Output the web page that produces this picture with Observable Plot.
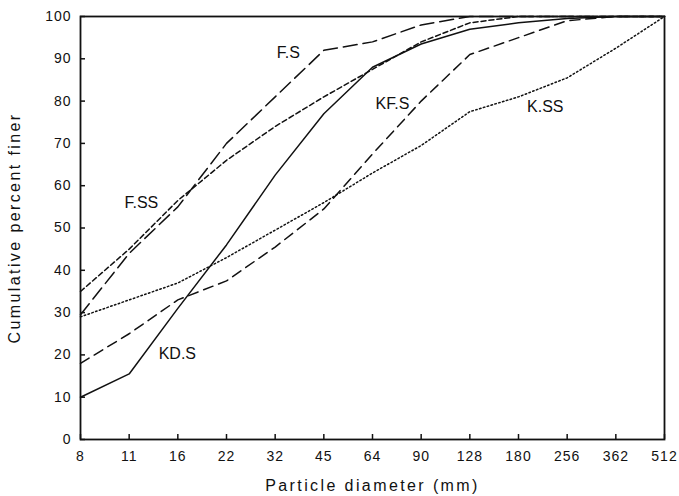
<!DOCTYPE html>
<html>
<head>
<meta charset="utf-8">
<script src="https://cdn.jsdelivr.net/npm/d3@7"></script>
<script src="https://cdn.jsdelivr.net/npm/@observablehq/plot@0.6"></script>
<style>
  html, body { margin: 0; padding: 0; background: #fff; }
  #chart svg { display: block; font-family: "Liberation Sans", Arial, Helvetica, sans-serif; }
  .ticklab text { letter-spacing: 1px; }
  .axtitle text { letter-spacing: 2.4px; }
</style>
</head>
<body>
<div id="chart"></div>
<script>
const xLabels = ["8","11","16","22","32","45","64","90","128","180","256","362","512"];
const yTicks = [0,10,20,30,40,50,60,70,80,90,100];

const kdS  = [10, 15.5, 31, 46, 62.5, 77, 88, 93.5, 97, 98.5, 99.5, 100, 100];
const fS   = [29.5, 44, 55, 70, 81, 92, 94, 98, 100, 100, 100, 100, 100];
const fSS  = [35, 45, 56.5, 66, 74, 81, 87.5, 94, 98.5, 100, 100, 100, 100];
const kfS  = [18, 25, 33, 37.5, 45.5, 54.5, 67.5, 80, 91, 95, 99, 100, 100];
const kSS  = [29, 33, 37, 43, 49.5, 56, 63, 69.5, 77.5, 81, 85.5, 92.5, 100];

const labelNames = ["F.S", "F.SS", "KF.S", "K.SS", "KD.S"];
const labelIdx   = [4.27, 1.25, 6.41, 9.55, 1.99];
const labelVal   = [91.5, 56, 79.4, 78.7, 20.3];

const toRows = arr => arr.map((v, i) => ({i, v}));
const labels = labelNames.map((n, k) => ({n, i: labelIdx[k], v: labelVal[k]}));

const lineOpts = {x: "i", y: "v", stroke: "#111", strokeWidth: 1.5};

const chart = Plot.plot({
  width: 679,
  height: 496,
  marginLeft: 80,
  marginRight: 15,
  marginTop: 16,
  marginBottom: 57,
  style: {fontSize: "14px", fontFamily: "'Liberation Sans', Arial, sans-serif", color: "#111"},
  x: {domain: [0, 12]},
  y: {domain: [0, 100]},
  marks: [
    Plot.line(toRows(kdS), {...lineOpts}),
    Plot.line(toRows(fS), {...lineOpts, strokeDasharray: "14,6"}),
    Plot.line(toRows(fSS), {...lineOpts, strokeDasharray: "5,3"}),
    Plot.line(toRows(kfS), {...lineOpts, strokeDasharray: "10,6"}),
    Plot.line(toRows(kSS), {...lineOpts, strokeDasharray: "1.5,2.5"}),
    Plot.text(labels, {x: "i", y: "v", text: "n", fontSize: 16, fill: "#111"}),
    Plot.frame({stroke: "#111", strokeWidth: 1.8}),
    Plot.axisX(d3.range(xLabels.length), {tickSize: -5, tickPadding: 17, strokeWidth: 1.5,
      tickFormat: i => xLabels[i], label: null, fontSize: 14, className: "ticklab"}),
    Plot.axisY(yTicks, {tickSize: -5, tickPadding: 14, strokeWidth: 1.5, label: null, fontSize: 14, className: "ticklab"}),
    Plot.text(["Particle diameter (mm)"], {frameAnchor: "bottom", dy: 46, textAnchor: "middle", lineAnchor: "middle", fontSize: 16, fill: "#111", className: "axtitle"}),
    Plot.text(["Cumulative percent finer"], {frameAnchor: "left", dx: -66, rotate: -90, textAnchor: "middle", lineAnchor: "middle", fontSize: 16, fill: "#111", className: "axtitle"})
  ]
});
document.getElementById("chart").appendChild(chart);
</script>
</body>
</html>
